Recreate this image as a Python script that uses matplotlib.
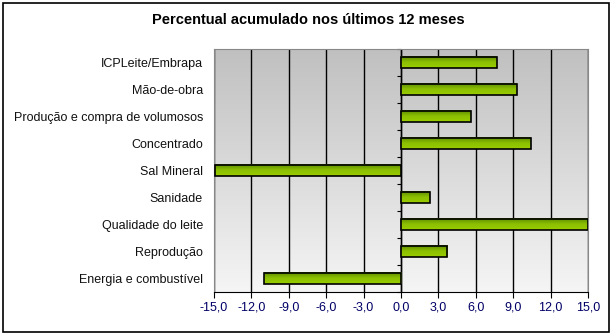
import numpy as np
import matplotlib.pyplot as plt
from matplotlib.colors import LinearSegmentedColormap
from matplotlib.patches import Rectangle

# dados
categorias = ['ICPLeite/Embrapa', 'Mão-de-obra', 'Produção e compra de volumosos',
              'Concentrado', 'Sal Mineral', 'Sanidade', 'Qualidade do leite',
              'Reprodução', 'Energia e combustível']
valores = [7.7, 9.3, 5.6, 10.4, -14.9, 2.3, 15.0, 3.7, -11.0]
xticks = [-15, -12, -9, -6, -3, 0, 3, 6, 9, 12, 15]

plt.rcParams['font.family'] = ['Liberation Sans', 'DejaVu Sans']

fig = plt.figure(figsize=(6.16, 3.36), dpi=100)
ax = fig.add_axes([214 / 616, 1 - 292 / 336, 374 / 616, 243 / 336])

y = np.arange(len(categorias))
ax.set_xlim(-15, 15)
ax.set_ylim(len(categorias) - 0.5, -0.5)

# fundo em degrade
fundo = LinearSegmentedColormap.from_list('fundo', ['#c0c0c0', '#f5f5f5'])
grad = np.linspace(0, 1, 256).reshape(-1, 1)
ax.imshow(grad, cmap=fundo, aspect='auto', extent=[-15, 15, len(categorias) - 0.5, -0.5],
          zorder=0)

ax.grid(axis='x', color='black', lw=1, zorder=1)
ax.set_axisbelow(True)

barras = ax.barh(y, valores, height=0.42, color='none', edgecolor='black', lw=1.2, zorder=4)
verde = LinearSegmentedColormap.from_list('verde', ['#5a8800', '#8cbf00', '#9acd00'])
for b in barras:
    x0, y0, w, h = b.get_x(), b.get_y(), b.get_width(), b.get_height()
    ax.imshow(grad, cmap=verde, aspect='auto', extent=[x0, x0 + w, y0 + h, y0], zorder=3)

ax.axvline(0, color='black', lw=1, zorder=2)

ax.set_yticks(y)
ax.set_yticklabels(categorias, fontsize=9, color='#111111')
ax.tick_params(axis='y', length=0, pad=8)
ax.set_xticks(xticks)
ax.set_xticklabels([f'{v:.1f}'.replace('.', ',') for v in xticks], fontsize=9, color='#000066')
ax.tick_params(axis='x', length=4, color='black', direction='out', pad=3)

for s in ['top', 'left', 'right']:
    ax.spines[s].set_color('#888888')
ax.spines['bottom'].set_color('black')

# eixo das categorias no zero
sec = ax.secondary_yaxis(0, transform=ax.transData)
sec.set_yticks(np.arange(-0.5, len(categorias), 1))
sec.set_yticklabels([])
sec.tick_params(length=3, color='black')
sec.spines['left'].set_visible(False)

fig.text(0.5, 1 - 20 / 336, 'Percentual acumulado nos últimos 12 meses',
         ha='center', va='center', fontsize=10.5, fontweight='bold')

fig.patches.append(Rectangle((3 / 616, 4 / 336), 606 / 616, 329 / 336, fill=False,
                             edgecolor='black', lw=1.2, transform=fig.transFigure))

plt.savefig('out.png', dpi=100)
